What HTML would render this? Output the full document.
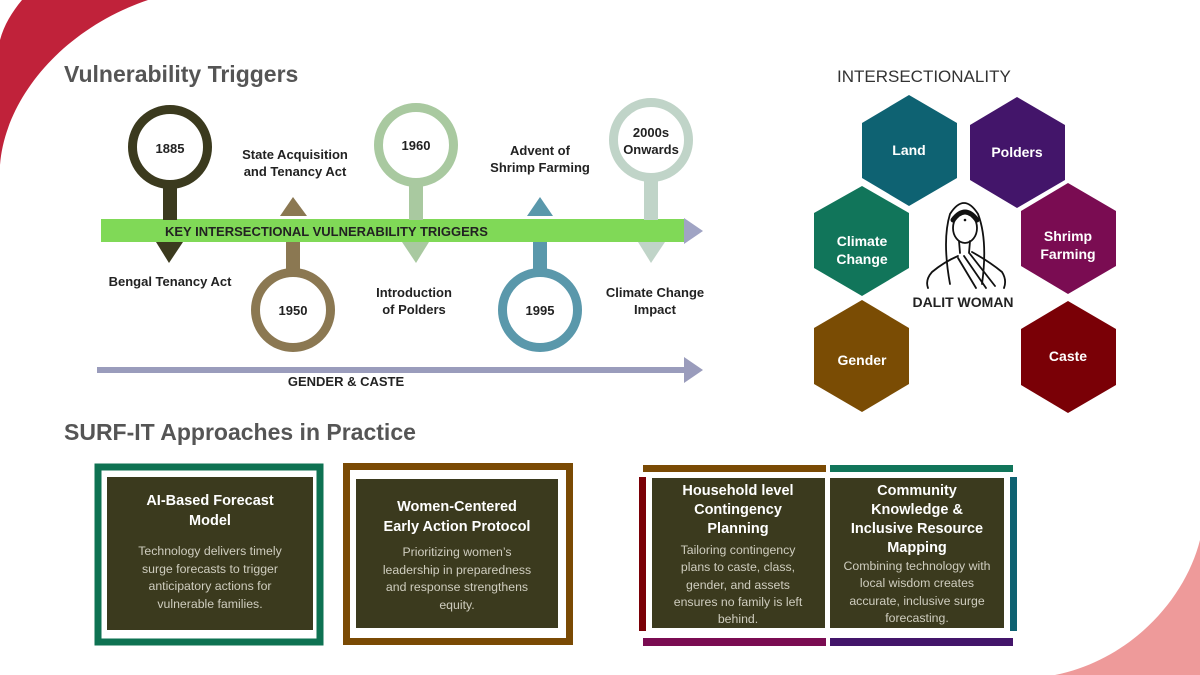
<!DOCTYPE html>
<html><head><meta charset="utf-8"><style>
html,body{margin:0;padding:0;background:#fff}
svg{display:block;font-family:"Liberation Sans",Arial,sans-serif}
.t{font-weight:bold;fill:#222;font-size:13px;text-anchor:middle}
.h{font-weight:bold;fill:#fff;font-size:14.5px;text-anchor:middle}
.b{fill:#cfcdbf;font-size:12.3px;text-anchor:middle}
.x{font-weight:bold;fill:#fff;font-size:14px;text-anchor:middle}
</style></head><body>
<svg width="1200" height="675" viewBox="0 0 1200 675" xmlns="http://www.w3.org/2000/svg">
<path d="M0,165 C5,100 60,30 148,0 L22,0 C12,12 4,25 0,40 Z" fill="#c0223a"/>
<path d="M1200,540 C1185,600 1130,660 1055,675 L1200,675 Z" fill="#ee9a9a"/>

<text x="64" y="82" font-size="23" font-weight="bold" fill="#555">Vulnerability Triggers</text>
<text x="64" y="440" font-size="23" font-weight="bold" fill="#555">SURF-IT Approaches in Practice</text>
<text x="837" y="82" font-size="17" fill="#333">INTERSECTIONALITY</text>

<rect x="101" y="219" width="583" height="23" fill="#80d957"/>
<polygon points="684,218 703,231 684,244" fill="#a0a4c4"/>
<text x="165" y="236" font-size="13" font-weight="bold" fill="#222">KEY INTERSECTIONAL VULNERABILITY TRIGGERS</text>

<rect x="97" y="367" width="589" height="6" fill="#9a9cbc"/>
<polygon points="684,357 703,370 684,383" fill="#9a9cbc"/>
<text x="346" y="386" class="t" font-size="12.5">GENDER &amp; CASTE</text>

<rect x="163" y="188" width="14" height="32" fill="#3b3a1e"/>
<circle cx="170" cy="147" r="37.5" fill="#fff" stroke="#3b3a1e" stroke-width="9"/>
<polygon points="156,242 183,242 169,263" fill="#3b3a1e"/>
<text x="170" y="153" class="t">1885</text>
<text x="170" y="286" class="t">Bengal Tenancy Act</text>

<rect x="286" y="242" width="14" height="30" fill="#8b7852"/>
<circle cx="293" cy="310" r="37.5" fill="#fff" stroke="#8b7852" stroke-width="9"/>
<polygon points="280,216 307,216 293,197" fill="#8b7852"/>
<text x="293" y="315" class="t">1950</text>
<text x="295" y="159" class="t">State Acquisition</text>
<text x="295" y="176" class="t">and Tenancy Act</text>

<rect x="409" y="182" width="14" height="38" fill="#a9c9a0"/>
<circle cx="416" cy="145" r="37.5" fill="#fff" stroke="#a9c9a0" stroke-width="9"/>
<polygon points="402,242 429,242 416,263" fill="#a9c9a0"/>
<text x="416" y="150" class="t">1960</text>
<text x="414" y="297" class="t">Introduction</text>
<text x="414" y="314" class="t">of Polders</text>

<rect x="533" y="242" width="14" height="30" fill="#5a98ab"/>
<circle cx="540" cy="310" r="37.5" fill="#fff" stroke="#5a98ab" stroke-width="9"/>
<polygon points="527,216 553,216 540,197" fill="#5a98ab"/>
<text x="540" y="315" class="t">1995</text>
<text x="540" y="155" class="t">Advent of</text>
<text x="540" y="172" class="t">Shrimp Farming</text>

<rect x="644" y="178" width="14" height="42" fill="#c0d4c8"/>
<circle cx="651" cy="140" r="37.5" fill="#fff" stroke="#c0d4c8" stroke-width="9"/>
<polygon points="638,242 665,242 651,263" fill="#c0d4c8"/>
<text x="651" y="137" class="t">2000s</text>
<text x="651" y="154" class="t">Onwards</text>
<text x="655" y="297" class="t">Climate Change</text>
<text x="655" y="314" class="t">Impact</text>

<g>
<polygon points="909,95 957,123 957,178 909,206 862,178 862,123" fill="#0e6272"/>
<text x="909" y="155" class="x">Land</text>
<polygon points="1017,97 1065,125 1065,180 1017,208 970,180 970,125" fill="#43156a"/>
<text x="1017" y="157" class="x">Polders</text>
<polygon points="862,186 909,213 909,268 862,296 814,268 814,213" fill="#11755a"/>
<text x="862" y="246" class="x">Climate</text><text x="862" y="264" class="x">Change</text>
<polygon points="1068,183 1116,211 1116,266 1068,294 1021,266 1021,211" fill="#7a0c52"/>
<text x="1068" y="241" class="x">Shrimp</text><text x="1068" y="259" class="x">Farming</text>
<polygon points="862,300 909,328 909,384 862,412 814,384 814,328" fill="#7a4c04"/>
<text x="862" y="365" class="x">Gender</text>
<polygon points="1068,301 1116,329 1116,385 1068,413 1021,385 1021,329" fill="#7a0006"/>
<text x="1068" y="361" class="x">Caste</text>
</g>

<g fill="none" stroke="#111" stroke-width="1.8" stroke-linecap="round">
<path d="M950,284 Q942,240 950,214 Q964,192 978,214 Q988,240 982,284"/>
<ellipse cx="965" cy="228" rx="12" ry="15" fill="#fff"/>
<path d="M953,220 Q965,204 977,220" stroke-width="5"/>
<path d="M958,256 Q944,262 932,272 Q925,280 928,288 M972,252 Q990,262 1002,272 Q1007,280 1004,288"/>
<path d="M958,258 L976,288 M964,256 L986,288 M970,254 L995,286"/>
<path d="M959,241 L960,253 M970,241 L969,253"/>
</g>
<circle cx="965" cy="220" r="1.3" fill="#111"/>
<text x="963" y="307" font-size="14" font-weight="bold" fill="#222" text-anchor="middle">DALIT WOMAN</text>

<rect x="98" y="467" width="222" height="175" fill="none" stroke="#0e7252" stroke-width="7"/>
<rect x="107" y="477" width="206" height="153" fill="#3b3a1e"/>
<text x="210" y="505" class="h">AI-Based Forecast</text>
<text x="210" y="525" class="h">Model</text>
<text x="210" y="555" class="b">Technology delivers timely</text>
<text x="210" y="573" class="b">surge forecasts to trigger</text>
<text x="210" y="590" class="b">anticipatory actions for</text>
<text x="210" y="608" class="b">vulnerable families.</text>

<rect x="346.5" y="466.5" width="223" height="175" fill="none" stroke="#7a4a04" stroke-width="7"/>
<rect x="356" y="479" width="202" height="149" fill="#3b3a1e"/>
<text x="457" y="511" class="h">Women-Centered</text>
<text x="457" y="531" class="h">Early Action Protocol</text>
<text x="457" y="556" class="b">Prioritizing women’s</text>
<text x="457" y="574" class="b">leadership in preparedness</text>
<text x="457" y="591" class="b">and response strengthens</text>
<text x="457" y="609" class="b">equity.</text>

<rect x="643" y="465" width="183" height="7" fill="#7a4a04"/>
<rect x="830" y="465" width="183" height="7" fill="#11755a"/>
<rect x="639" y="477" width="7" height="154" fill="#7a0006"/>
<rect x="1010" y="477" width="7" height="154" fill="#0e6272"/>
<rect x="643" y="638" width="183" height="8" fill="#7a0c52"/>
<rect x="830" y="638" width="183" height="8" fill="#43156a"/>
<rect x="652" y="478" width="173" height="150" fill="#3b3a1e"/>
<rect x="830" y="478" width="174" height="150" fill="#3b3a1e"/>
<text x="738" y="495" class="h">Household level</text>
<text x="738" y="514" class="h">Contingency</text>
<text x="738" y="533" class="h">Planning</text>
<text x="738" y="554" class="b">Tailoring contingency</text>
<text x="738" y="571" class="b">plans to caste, class,</text>
<text x="738" y="589" class="b">gender, and assets</text>
<text x="738" y="606" class="b">ensures no family is left</text>
<text x="738" y="623" class="b">behind.</text>
<text x="917" y="495" class="h">Community</text>
<text x="917" y="514" class="h">Knowledge &amp;</text>
<text x="917" y="533" class="h">Inclusive Resource</text>
<text x="917" y="552" class="h">Mapping</text>
<text x="917" y="570" class="b">Combining technology with</text>
<text x="917" y="587" class="b">local wisdom creates</text>
<text x="917" y="605" class="b">accurate, inclusive surge</text>
<text x="917" y="622" class="b">forecasting.</text>
</svg>
</body></html>
